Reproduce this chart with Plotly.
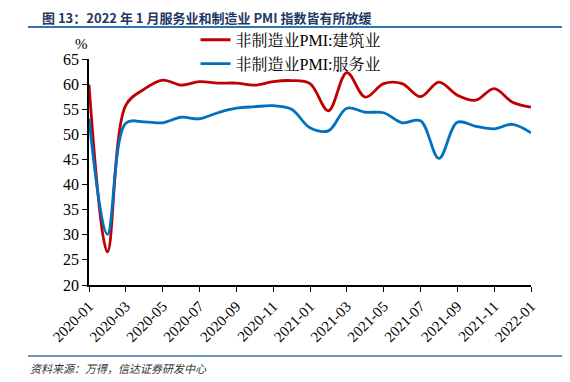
import plotly.graph_objects as go

months = ["2020-01","2020-02","2020-03","2020-04","2020-05","2020-06","2020-07","2020-08","2020-09","2020-10","2020-11","2020-12",
          "2021-01","2021-02","2021-03","2021-04","2021-05","2021-06","2021-07","2021-08","2021-09","2021-10","2021-11","2021-12","2022-01"]
construction = [59.9, 26.6, 55.8, 59.0, 60.8, 59.8, 60.5, 60.2, 60.2, 59.8, 60.5, 60.7,
                60.1, 54.7, 62.3, 57.4, 60.1, 60.1, 57.5, 60.4, 57.8, 56.8, 59.1, 56.4, 55.4]
services = [53.1, 30.1, 52.2, 52.5, 52.3, 53.4, 53.1, 54.3, 55.2, 55.5, 55.7, 55.0,
            51.3, 50.7, 55.2, 54.4, 54.3, 52.3, 52.7, 45.2, 52.4, 51.6, 51.1, 52.0, 50.3]
tick_labels = months[::2]
series_names = ["非制造业PMI:建筑业", "非制造业PMI:服务业"]

idx = list(range(len(months)))
serif = "Times New Roman, Liberation Serif, Noto Serif CJK SC, Noto Sans CJK SC, serif"

fig = go.Figure()
fig.add_trace(go.Scatter(x=idx, y=construction, name=series_names[0], mode="lines",
                         line=dict(color="#C00000", width=2.8, shape="spline", smoothing=1.0)))
fig.add_trace(go.Scatter(x=idx, y=services, name=series_names[1], mode="lines",
                         line=dict(color="#0070C0", width=2.8, shape="spline", smoothing=1.0)))

fig.update_layout(
    width=562, height=374,
    margin=dict(l=81, r=39, t=51, b=97),
    plot_bgcolor="white", paper_bgcolor="white",
    font=dict(family=serif, color="black"),
    showlegend=True,
    legend=dict(x=0.241, y=1.16, xanchor="left", yanchor="top",
                bgcolor="rgba(0,0,0,0)", font=dict(size=16, family=serif),
                tracegroupgap=0, itemwidth=30),
    xaxis=dict(range=[0, 24], tickmode="array", tickvals=idx[::2], ticktext=tick_labels,
               tickangle=-45, showgrid=False, zeroline=False, showline=True, automargin=False,
               linecolor="black", linewidth=1.5, ticks="outside", ticklen=5,
               tickcolor="black", tickfont=dict(size=15, family=serif)),
    yaxis=dict(range=[20, 65], tickmode="array", tickvals=list(range(20, 66, 5)), automargin=False,
               showgrid=False, zeroline=False, showline=True, linecolor="black",
               linewidth=1.5, ticks="outside", ticklen=5, tickcolor="black",
               tickfont=dict(size=16, family=serif)),
)

fig.add_annotation(text="<b>图 13：2022 年 1 月服务业和制造业 PMI 指数皆有所放缓</b>",
                   xref="paper", yref="paper", x=-0.111, y=1.182, xanchor="left", yanchor="middle",
                   showarrow=False, font=dict(size=13, color="#1F3864", family="Noto Sans CJK SC, sans-serif"))
fig.add_annotation(text="%", xref="paper", yref="paper", x=-0.0165, y=1.066,
                   xanchor="center", yanchor="middle", showarrow=False,
                   font=dict(size=15, family=serif))
fig.add_annotation(text="<i>资料来源：万得，信达证券研发中心</i>", xref="paper", yref="paper",
                   x=-0.138, y=-0.367, xanchor="left", yanchor="middle", showarrow=False,
                   font=dict(size=11, color="#333333", family="Noto Sans CJK SC, sans-serif"))
# decorative rules
fig.add_shape(type="line", xref="paper", yref="paper", x0=-0.138, x1=1.077, y0=1.1416, y1=1.1416,
              line=dict(color="#2E75B6", width=2))
fig.add_shape(type="line", xref="paper", yref="paper", x0=-0.138, x1=1.077, y0=-0.314, y1=-0.314,
              line=dict(color="#2E75B6", width=1.5))

fig.write_html("out.html")
